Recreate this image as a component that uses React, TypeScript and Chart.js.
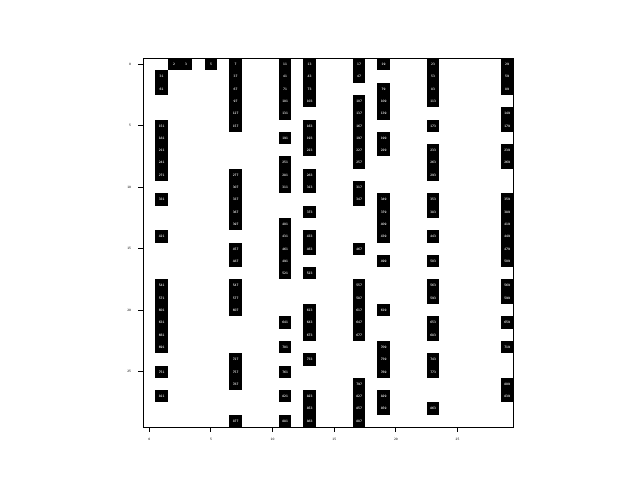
import React, { useEffect, useRef } from "react";
import { Chart, registerables } from "chart.js";

Chart.register(...registerables);

// Grid of integers 0..899 laid out as 30 rows x 30 columns; black cells are primes
const GRID_SIZE = 30;
const PRIMES = [
  2, 3, 5, 7, 11, 13, 17, 19, 23, 29, 31, 37, 41, 43, 47, 53, 59, 61, 67, 71, 73, 79, 83, 89, 97,
  101, 103, 107, 109, 113, 127, 131, 137, 139, 149, 151, 157, 163, 167, 173, 179, 181, 191, 193, 197, 199,
  211, 223, 227, 229, 233, 239, 241, 251, 257, 263, 269, 271, 277, 281, 283, 293,
  307, 311, 313, 317, 331, 337, 347, 349, 353, 359, 367, 373, 379, 383, 389, 397,
  401, 409, 419, 421, 431, 433, 439, 443, 449, 457, 461, 463, 467, 479, 487, 491, 499,
  503, 509, 521, 523, 541, 547, 557, 563, 569, 571, 577, 587, 593, 599,
  601, 607, 613, 617, 619, 631, 641, 643, 647, 653, 659, 661, 673, 677, 683, 691,
  701, 709, 719, 727, 733, 739, 743, 751, 757, 761, 769, 773, 787, 797,
  809, 811, 821, 823, 827, 829, 839, 853, 857, 859, 863, 877, 881, 883, 887,
];
const X_TICKS = [0, 5, 10, 15, 20, 25];
const Y_TICKS = [0, 5, 10, 15, 20, 25];

const cellPlugin = {
  id: "primeCells",
  beforeDatasetsDraw(chart: any) {
    const { ctx, scales, chartArea } = chart;
    const xs = scales.x;
    const ys = scales.y;
    ctx.save();
    const data = chart.data.datasets[0].data as any[];
    data.forEach((d: any) => {
      const xa = Math.round(xs.getPixelForValue(d.x - 0.5));
      const xb = Math.round(xs.getPixelForValue(d.x + 0.5));
      const ya = Math.round(ys.getPixelForValue(d.y - 0.5));
      const yb = Math.round(ys.getPixelForValue(d.y + 0.5));
      ctx.fillStyle = "#000000";
      ctx.fillRect(Math.min(xa, xb), Math.min(ya, yb), Math.abs(xb - xa), Math.abs(yb - ya));
      ctx.fillStyle = "#ffffff";
      ctx.font = "3px 'DejaVu Sans'";
      ctx.textAlign = "center";
      ctx.textBaseline = "middle";
      ctx.fillText(String(d.n), (xa + xb) / 2, (ya + yb) / 2);
    });
    ctx.strokeStyle = "#000000";
    ctx.lineWidth = 1;
    ctx.strokeRect(
      Math.round(chartArea.left) + 0.5,
      Math.round(chartArea.top) + 0.5,
      Math.round(chartArea.right - chartArea.left),
      Math.round(chartArea.bottom - chartArea.top)
    );
    ctx.restore();
  },
};

export default function App() {
  const canvasRef = useRef<HTMLCanvasElement | null>(null);

  useEffect(() => {
    document.body.style.margin = "0";
    const canvas = canvasRef.current;
    if (!canvas) return;
    const points = PRIMES.map((n) => ({ x: n % GRID_SIZE, y: Math.floor(n / GRID_SIZE), n }));
    const chart = new Chart(canvas, {
      type: "scatter",
      data: {
        datasets: [
          {
            label: "primes",
            data: points as any,
            pointRadius: 0,
            pointHoverRadius: 0,
          },
        ],
      },
      options: {
        animation: false,
        responsive: false,
        maintainAspectRatio: false,
        events: [],
        layout: { padding: { left: 0, top: 58, right: 127, bottom: 0 } },
        plugins: {
          legend: { display: false },
          tooltip: { enabled: false },
        },
        scales: {
          x: {
            type: "linear",
            min: -0.5,
            max: GRID_SIZE - 0.5,
            afterBuildTicks: (s: any) => {
              s.ticks = X_TICKS.map((v) => ({ value: v }));
            },
            afterFit: (s: any) => {
              s.height = 53;
            },
            grid: {
              display: true,
              drawOnChartArea: false,
              drawTicks: true,
              tickLength: 5,
              tickWidth: 1,
              tickColor: "#000000",
            },
            border: { display: true, color: "#000000", width: 1 },
            ticks: {
              color: "#000000",
              font: { size: 3, family: "'DejaVu Sans'" },
              padding: 5,
              maxRotation: 0,
              autoSkip: false,
            },
          },
          y: {
            type: "linear",
            reverse: true,
            min: -0.5,
            max: GRID_SIZE - 0.5,
            afterBuildTicks: (s: any) => {
              s.ticks = Y_TICKS.map((v) => ({ value: v }));
            },
            afterFit: (s: any) => {
              s.width = 143;
            },
            grid: {
              display: true,
              drawOnChartArea: false,
              drawTicks: true,
              tickLength: 5,
              tickWidth: 1,
              tickColor: "#000000",
            },
            border: { display: true, color: "#000000", width: 1 },
            ticks: {
              color: "#000000",
              font: { size: 3, family: "'DejaVu Sans'" },
              padding: 7,
              autoSkip: false,
            },
          },
        },
      },
      plugins: [cellPlugin],
    });
    return () => chart.destroy();
  }, []);

  return (
    <div style={{ width: 640, height: 480, background: "#ffffff" }}>
      <canvas ref={canvasRef} width={640} height={480} style={{ display: "block", width: 640, height: 480 }} />
    </div>
  );
}
